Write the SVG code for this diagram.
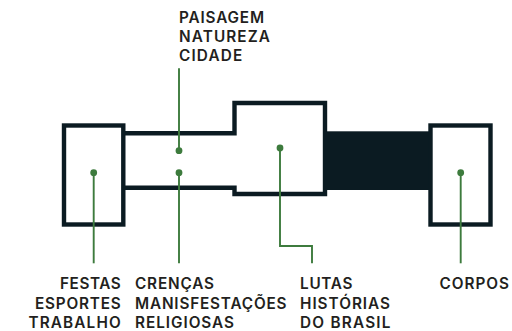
<svg xmlns="http://www.w3.org/2000/svg" width="512" height="331" viewBox="0 0 512 331">
  <style>
    .frame { fill: none; stroke: #0b1b22; stroke-width: 4.4; }
    .bar { fill: #0b1b22; }
    .lead { fill: none; stroke: #3d7b3d; stroke-width: 1.9; }
    .dot { fill: #3d7b3d; }
    .lbl { font-family: Inter, "Liberation Sans", sans-serif; font-weight: 600; font-size: 15.3px; fill: #231f20; }
  </style>
  <rect width="512" height="331" fill="#ffffff"/>

  <g id="festas-box">
    <rect class="frame" x="64" y="125.5" width="59.3" height="99"/>
  </g>
  <g id="tube-and-lutas-box">
    <path class="frame" d="M123.3,133.3 H234.5 V103 H325 V194 H234.5 V187.8 H123.3"/>
  </g>
  <g id="bar">
    <rect class="bar" x="325" y="131.3" width="105.5" height="58.7"/>
  </g>
  <g id="corpos-box">
    <rect class="frame" x="430.5" y="125.5" width="60" height="99"/>
  </g>

  <g id="connectors">
    <line class="lead" x1="93.7" y1="172.7" x2="93.7" y2="263.3"/>
    <circle class="dot" cx="93.7" cy="172.7" r="3.4"/>
    <line class="lead" x1="179" y1="68.3" x2="179" y2="150.7"/>
    <circle class="dot" cx="179" cy="150.7" r="3.4"/>
    <line class="lead" x1="179" y1="172.7" x2="179" y2="263.3"/>
    <circle class="dot" cx="179" cy="172.7" r="3.4"/>
    <polyline class="lead" points="280,148 280,246 312,246 312,263.3"/>
    <circle class="dot" cx="280" cy="148" r="3.4"/>
    <line class="lead" x1="460.7" y1="172.7" x2="460.7" y2="263.3"/>
    <circle class="dot" cx="460.7" cy="172.7" r="3.4"/>
  </g>

  <g id="label-paisagem" class="lbl">
    <text x="179" y="22.5" textLength="85">PAISAGEM</text>
    <text x="179" y="41.8" textLength="91">NATUREZA</text>
    <text x="179" y="61" textLength="63.3">CIDADE</text>
  </g>
  <g id="label-festas" class="lbl">
    <text x="60" y="289.3" textLength="60.7">FESTAS</text>
    <text x="35" y="308.8" textLength="85.7">ESPORTES</text>
    <text x="28.5" y="328.3" textLength="92.2">TRABALHO</text>
  </g>
  <g id="label-crencas" class="lbl">
    <text x="135" y="289.3" textLength="79">CRENÇAS</text>
    <text x="135" y="308.8" textLength="151.5">MANISFESTAÇÕES</text>
    <text x="135" y="328.3" textLength="99">RELIGIOSAS</text>
  </g>
  <g id="label-lutas" class="lbl">
    <text x="300" y="289.3" textLength="52.5">LUTAS</text>
    <text x="300" y="308.8" textLength="90">HISTÓRIAS</text>
    <text x="300" y="328.3" textLength="90.5">DO BRASIL</text>
  </g>
  <g id="label-corpos" class="lbl">
    <text x="439.5" y="289.3" textLength="69.5">CORPOS</text>
  </g>
</svg>
